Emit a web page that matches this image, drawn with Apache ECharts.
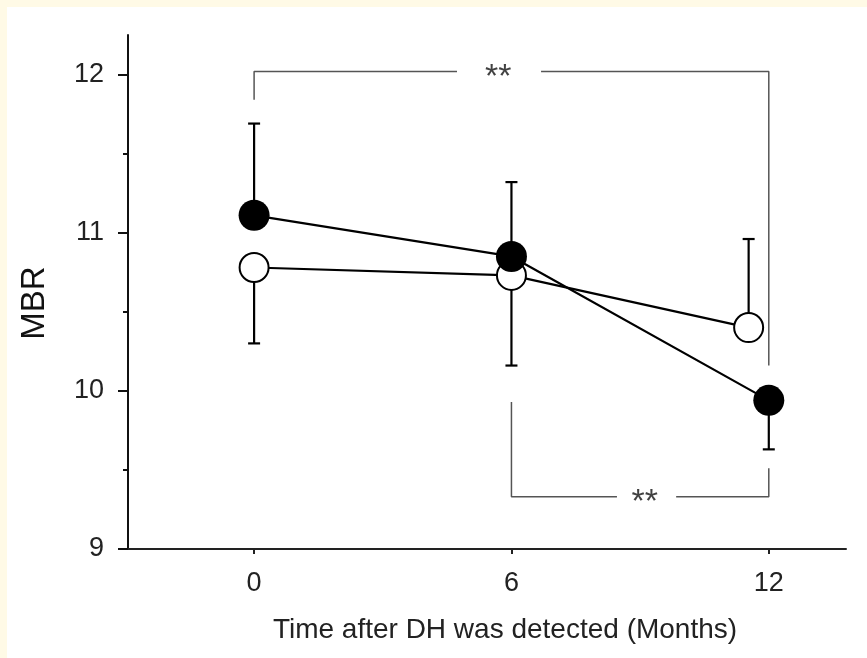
<!DOCTYPE html>
<html>
<head>
    <meta charset="utf-8">
    <title>MBR</title>
    <script src="https://cdn.jsdelivr.net/npm/echarts@6/dist/echarts.min.js"></script>
    <style>
        html, body { margin: 0; padding: 0; background: #fffae6; }
        #main { position: absolute; left: 7px; top: 7px; width: 860px; height: 651px; background: #ffffff; }
    </style>
</head>
<body>
<div id="main"></div>
<script>
    // 数据
    var months = [0, 6, 12];
    var filledMean = [11.11, 10.85, 9.94];
    var filledErr = [11.69, 11.32, 9.63];     // 误差线端点
    var openX = [0, 6, 11.53];
    var openMean = [10.78, 10.73, 10.40];
    var openErr = [10.30, 10.16, 10.96];
    var yTicks = [9, 10, 11, 12];
    var yMinor = [9.5, 10.5, 11.5];
    var xTicks = [0, 6, 12];

    // 显著性标注
    var bracketLines = [
        [[0, 11.84], [0, 12.02], [4.73, 12.02]],
        [[6.69, 12.02], [12, 12.02], [12, 10.16]],
        [[6, 9.93], [6, 9.33], [8.46, 9.33]],
        [[9.84, 9.33], [12, 9.33], [12, 9.51]]
    ];
    var starMarks = [[5.69, 12.02], [9.11, 9.33]];

    var font = "'Liberation Sans', Arial, sans-serif";
    var chart = echarts.init(document.getElementById('main'));

    function errorBar(params, api) {
        var p0 = api.coord([api.value(0), api.value(1)]);
        var p1 = api.coord([api.value(0), api.value(2)]);
        var st = { stroke: '#000', lineWidth: 2.2 };
        return {
            type: 'group',
            children: [
                { type: 'line', shape: { x1: p0[0], y1: p0[1], x2: p1[0], y2: p1[1] }, style: st },
                { type: 'line', shape: { x1: p1[0] - 6, y1: p1[1], x2: p1[0] + 6, y2: p1[1] }, style: st }
            ]
        };
    }

    var series = [];
    bracketLines.forEach(function (seg) {
        series.push({
            type: 'line', data: seg, symbol: 'none', silent: true,
            lineStyle: { color: '#555', width: 1.5 }, z: 1
        });
    });
    series.push({
        type: 'scatter', data: starMarks, symbolSize: 0, silent: true,
        label: { show: true, position: 'inside', formatter: '**', fontSize: 34, color: '#111', fontFamily: font, offset: [0, 6] }
    });
    series.push({
        type: 'custom', renderItem: errorBar, z: 2,
        data: months.map(function (m, i) { return [m, filledMean[i], filledErr[i]]; })
    });
    series.push({
        type: 'custom', renderItem: errorBar, z: 2,
        data: openX.map(function (m, i) { return [m, openMean[i], openErr[i]]; })
    });
    series.push({
        type: 'line', z: 3,
        data: openX.map(function (m, i) { return [m, openMean[i]]; }),
        symbol: 'circle', symbolSize: 29,
        lineStyle: { color: '#000', width: 2.2 },
        itemStyle: { color: '#fff', borderColor: '#000', borderWidth: 2 }
    });
    series.push({
        type: 'line', z: 4,
        data: months.map(function (m, i) { return [m, filledMean[i]]; }),
        symbol: 'circle', symbolSize: 31,
        lineStyle: { color: '#000', width: 2.2 },
        itemStyle: { color: '#000', borderColor: '#000', borderWidth: 0 }
    });

    var option = {
        animation: false,
        grid: { left: 121, right: 21, top: 28, bottom: 109 },
        xAxis: {
            type: 'value', min: -2.94, max: 13.8,
            axisLine: { onZero: false, lineStyle: { color: '#222', width: 2 } },
            axisTick: { customValues: xTicks, length: 5, lineStyle: { color: '#222', width: 2 } },
            axisLabel: { customValues: xTicks, margin: 21, fontSize: 27, color: '#222', fontFamily: font },
            splitLine: { show: false }
        },
        yAxis: [{
            type: 'value', min: 9, max: 12.25,
            axisLine: { show: true, onZero: false, lineStyle: { color: '#111', width: 2 } },
            axisTick: { show: true, customValues: yTicks, length: 10, lineStyle: { color: '#111', width: 2 } },
            axisLabel: { customValues: yTicks, margin: 24, fontSize: 27, color: '#222', fontFamily: font },
            splitLine: { show: false }
        }, {
            type: 'value', min: 9, max: 12.25, position: 'left',
            axisLine: { show: false, onZero: false },
            axisTick: { show: true, customValues: yMinor, length: 5, lineStyle: { color: '#111', width: 2 } },
            axisLabel: { show: false },
            splitLine: { show: false }
        }],
        graphic: [{
            type: 'text', x: 28, y: 296, rotation: Math.PI / 2,
            style: { text: 'MBR', font: '33px ' + font, fill: '#111', align: 'center', verticalAlign: 'middle' }
        }, {
            type: 'text', x: 498, y: 623,
            style: { text: 'Time after DH was detected (Months)', font: '28px ' + font, fill: '#222', align: 'center', verticalAlign: 'middle' }
        }],
        series: series
    };
    chart.setOption(option);
</script>
</body>
</html>
